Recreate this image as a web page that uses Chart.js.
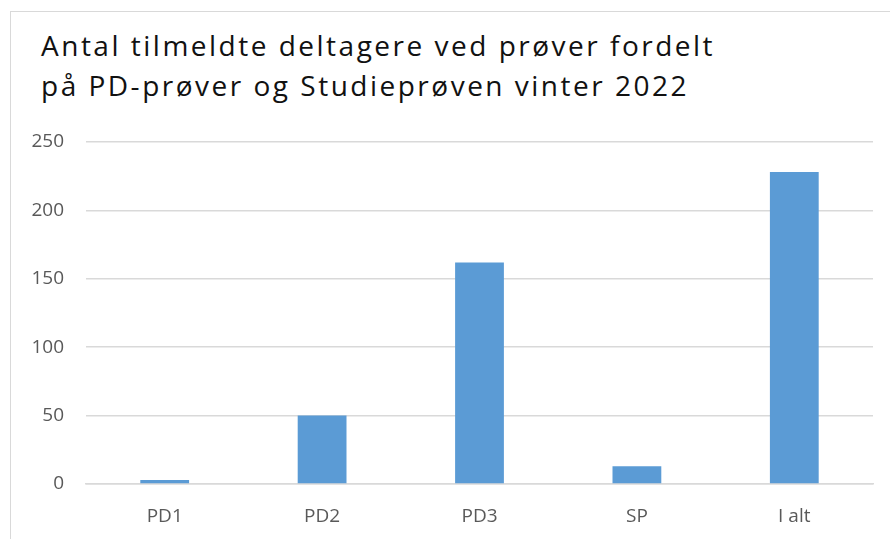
<!DOCTYPE html>
<html>
<head>
<meta charset="utf-8">
<script src="https://cdn.jsdelivr.net/npm/chart.js@4/dist/chart.umd.min.js"></script>
<style>
  html, body { margin: 0; padding: 0; background: #fff; overflow: hidden; }
  #wrap { position: relative; width: 890px; height: 539px; overflow: hidden; }
  #frame { position: absolute; left: 10px; top: 11px; width: 900px; height: 600px; border: 1px solid #d9d9d9; box-sizing: border-box; }
  #title { position: absolute; left: 41px; top: 25px; font-family: "Open Sans", Lato, sans-serif; font-size: 28px; letter-spacing: 2.5px; line-height: 40px; color: #111; white-space: nowrap; }
  #c { position: absolute; left: 0; top: 0; }
</style>
</head>
<body>
<div id="wrap">
  <div id="frame"></div>
  <div id="title">Antal tilmeldte deltagere ved prøver fordelt<br>på PD-prøver og Studieprøven vinter 2022</div>
  <canvas id="c" width="890" height="539"></canvas>
</div>
<script>
const categories = ["PD1", "PD2", "PD3", "SP", "I alt"];
const tilmeldte = [3, 50, 162, 13, 228];
const yTicks = [0, 50, 100, 150, 200, 250];

new Chart(document.getElementById('c'), {
  type: 'bar',
  data: {
    labels: categories,
    datasets: [{
      label: 'Tilmeldte',
      data: tilmeldte,
      backgroundColor: '#5b9bd5',
      borderWidth: 0,
      categoryPercentage: 1.0,
      barPercentage: 0.31
    }]
  },
  options: {
    responsive: false,
    animation: false,
    devicePixelRatio: 1,
    layout: { padding: { left: 10, right: 17, top: 142, bottom: 0 } },
    plugins: { legend: { display: false }, tooltip: { enabled: false }, title: { display: false } },
    scales: {
      x: {
        grid: { display: false, drawTicks: false },
        border: { display: true, color: '#d9d9d9', width: 1.5 },
        ticks: { color: '#595959', font: { family: '"Open Sans", sans-serif', size: 19 }, padding: 21 },
        afterFit: (s) => { s.height = 55; }
      },
      y: {
        min: 0, max: 250,
        afterBuildTicks: (s) => { s.ticks = yTicks.map(v => ({ value: v })); },
        grid: { color: '#d9d9d9', lineWidth: 1.5, drawTicks: false },
        border: { display: false },
        ticks: { color: '#595959', font: { family: '"Open Sans", sans-serif', size: 19 }, padding: 22 },
        afterFit: (s) => { s.width = 76; }
      }
    }
  }
});
</script>
</body>
</html>
